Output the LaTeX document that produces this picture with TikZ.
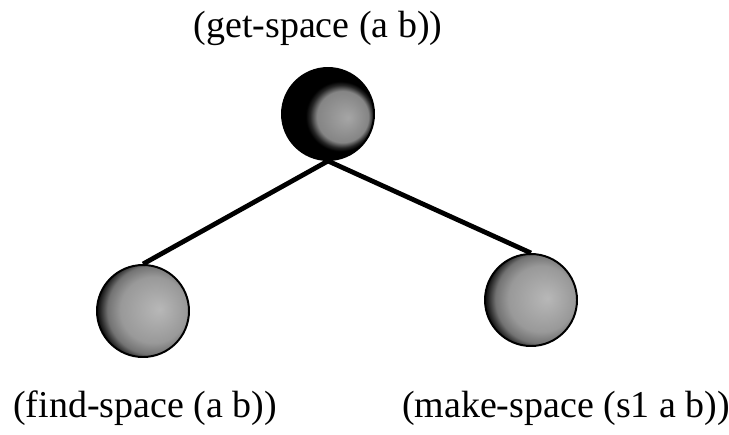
\documentclass[tikz,border=0pt]{standalone}
\usepackage{fontspec}
\setmainfont{Liberation Serif}
\usepackage{tikz}
\usetikzlibrary{positioning}
\pgfdeclareradialshading{topshade}{\pgfpoint{11bp}{-2bp}}{color(0bp)=(black!35); color(14bp)=(black!48); color(17bp)=(black!85); color(19bp)=(black); color(50bp)=(black)}
\pgfdeclareradialshading{lowshade}{\pgfpoint{9bp}{1bp}}{color(0bp)=(black!28); color(18bp)=(black!40); color(24bp)=(black!55); color(28bp)=(black!90); color(30bp)=(black); color(50bp)=(black)}

\begin{document}
\begin{tikzpicture}[ball/.style={circle, draw, line width=1.4pt, minimum size=2.3cm, inner sep=0pt},
    lbl/.style={inner sep=0pt, font=\fontsize{27}{30}\selectfont}]
    \useasboundingbox (0,0) rectangle (18.225,-10.85);
    \node[ball, shading=topshade] (get) at (8.2,-2.85) {};
    \node[ball, shading=lowshade] (find) at (3.575,-7.775) {};
    \node[ball, shading=lowshade] (make) at (13.275,-7.5) {};
    \node[lbl, above=0.52cm of get, xshift=-0.25cm] (getL) {(get-space (a b))};
    \node[lbl, below=0.8cm of find, xshift=0.05cm] (findL) {(find-space (a b))};
    \node[lbl, below=1.09cm of make, xshift=0.875cm] (makeL) {(make-space (s1 a b))};
    \draw[line width=3.4pt] (get.south) -- (find.north);
    \draw[line width=3.4pt] (get.south) -- (make.north);
  \end{tikzpicture}
\end{document}
